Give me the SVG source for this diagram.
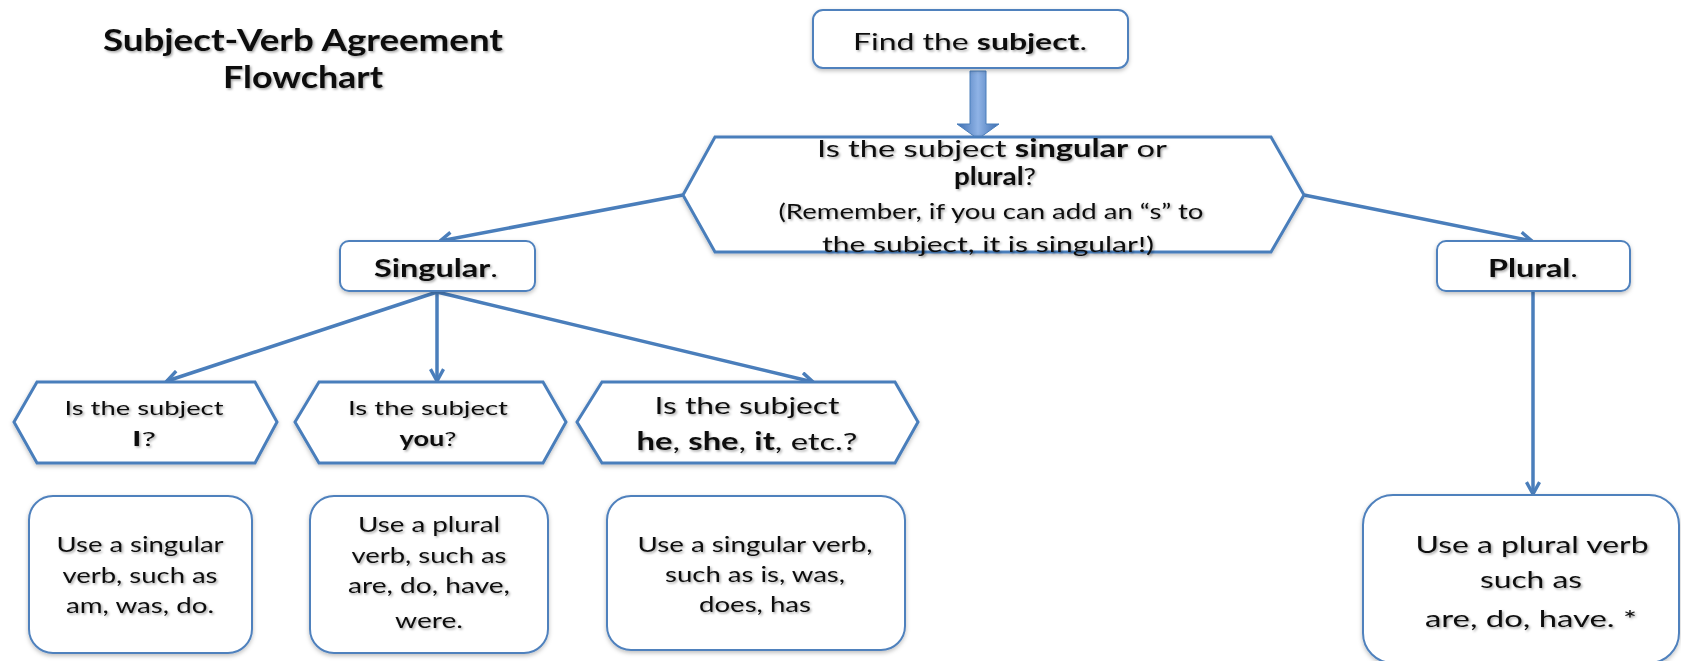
<svg xmlns="http://www.w3.org/2000/svg" width="1681" height="661" viewBox="0 0 1681 661">
<defs>
<style>
.box{fill:#fff;stroke:#4f81bd;stroke-width:2}
.hex{fill:#fff;stroke:#4a7ebb;stroke-width:3;stroke-linejoin:miter}
.conn{stroke:#4a7ebb;stroke-width:3.5;fill:none;marker-end:url(#arr)}
text{font-family:Lato,"Open Sans",sans-serif;fill:#111;text-anchor:middle;filter:url(#ts)}
.b{font-weight:bold}
.f24{font-size:24px}
.f23{font-size:23px}
.f21{font-size:21px}
.f20{font-size:20px}
</style>
<filter id="ts" x="-10%" y="-30%" width="120%" height="160%">
<feDropShadow dx="1.5" dy="1.5" stdDeviation="1.2" flood-color="#000" flood-opacity="0.35"/>
</filter>
<filter id="ss" x="-10%" y="-10%" width="120%" height="130%">
<feDropShadow dx="0" dy="2" stdDeviation="2" flood-color="#000" flood-opacity="0.25"/>
</filter>
<linearGradient id="ga" x1="0" y1="0" x2="1" y2="0">
<stop offset="0" stop-color="#3c6db0"/>
<stop offset="0.5" stop-color="#8fb3e6"/>
<stop offset="1" stop-color="#3c6db0"/>
</linearGradient>
<marker id="arr" viewBox="0 0 12 12" refX="10" refY="6" markerWidth="4.5" markerHeight="4.5" orient="auto" markerUnits="strokeWidth">
<path d="M1,1 L10,6 L1,11" fill="none" stroke="#4a7ebb" stroke-width="2.6"/>
</marker>
</defs>
<rect width="1681" height="661" fill="#fff"/>

<g id="title">
<text class="b" x="303" y="51" font-size="30" textLength="400" lengthAdjust="spacingAndGlyphs">Subject-Verb Agreement</text>
<text class="b" x="303" y="88" font-size="30" textLength="160" lengthAdjust="spacingAndGlyphs">Flowchart</text>
</g>

<g id="connectors">
<path d="M970,71 H986 V124 H999 L978,139 L957,124 H970 Z" fill="url(#ga)" stroke="#4a7ebb" stroke-width="1"/>
<line class="conn" x1="683" y1="195" x2="440" y2="241"/>
<line class="conn" x1="1304" y1="195" x2="1532" y2="241"/>
<line class="conn" x1="437" y1="292" x2="167" y2="381"/>
<line class="conn" x1="437" y1="292" x2="437" y2="381"/>
<line class="conn" x1="437" y1="292" x2="813" y2="382"/>
<line class="conn" x1="1533" y1="292" x2="1533" y2="494"/>
</g>

<g id="find">
<rect class="box" x="813" y="10" width="315" height="58" rx="10" filter="url(#ss)"/>
<text class="f23" x="970" y="50" textLength="234" lengthAdjust="spacingAndGlyphs">Find the <tspan class="b">subject</tspan>.</text>
</g>

<g id="q-main">
<polygon class="hex" points="683,195 715,137 1271,137 1304,195 1271,252 715,252" filter="url(#ss)"/>
<text class="f24" x="992" y="157" textLength="350" lengthAdjust="spacingAndGlyphs">Is  the subject <tspan class="b">singular</tspan> or</text>
<text class="f24" x="995" y="185" textLength="82" lengthAdjust="spacingAndGlyphs"><tspan class="b">plural</tspan>?</text>
<text class="f21" x="991" y="219" textLength="425" lengthAdjust="spacingAndGlyphs">(Remember, if you can add an “s” to</text>
<text class="f21" x="988" y="252" textLength="332" lengthAdjust="spacingAndGlyphs">the subject, it is singular!)</text>
</g>

<g id="singular">
<rect class="box" x="340" y="241" width="195" height="50" rx="9" filter="url(#ss)"/>
<text class="f24 b" x="436" y="277" textLength="124" lengthAdjust="spacingAndGlyphs">Singular<tspan font-weight="normal">.</tspan></text>
</g>

<g id="plural">
<rect class="box" x="1437" y="241" width="193" height="50" rx="9" filter="url(#ss)"/>
<text class="f24 b" x="1533" y="277" textLength="90" lengthAdjust="spacingAndGlyphs">Plural<tspan font-weight="normal">.</tspan></text>
</g>

<g id="q-i">
<polygon class="hex" points="14,422 37,382 255,382 277,422 255,463 37,463" filter="url(#ss)"/>
<text class="f20" x="144" y="415" textLength="159" lengthAdjust="spacingAndGlyphs">Is the subject</text>
<text class="f20" x="144" y="446" textLength="24" lengthAdjust="spacingAndGlyphs"><tspan class="b">I</tspan>?</text>
</g>

<g id="q-you">
<polygon class="hex" points="295,422 319,382 543,382 566,422 543,463 319,463" filter="url(#ss)"/>
<text class="f20" x="428" y="415" textLength="160" lengthAdjust="spacingAndGlyphs">Is the subject</text>
<text class="f20" x="428" y="446" textLength="57" lengthAdjust="spacingAndGlyphs"><tspan class="b">you</tspan>?</text>
</g>

<g id="q-he">
<polygon class="hex" points="577,422 602,382 895,382 918,422 895,463 602,463" filter="url(#ss)"/>
<text class="f24" x="747" y="414" textLength="185" lengthAdjust="spacingAndGlyphs">Is the subject</text>
<text class="f24" x="747" y="450" textLength="221" lengthAdjust="spacingAndGlyphs"><tspan class="b">he</tspan>, <tspan class="b">she</tspan>, <tspan class="b">it</tspan>, etc.?</text>
</g>

<g id="a-i">
<rect class="box" x="29" y="496" width="223" height="157" rx="24" filter="url(#ss)"/>
<text class="f21" x="140" y="552" textLength="167" lengthAdjust="spacingAndGlyphs">Use a singular</text>
<text class="f21" x="140" y="583" textLength="155" lengthAdjust="spacingAndGlyphs">verb, such as</text>
<text class="f21" x="140" y="613" textLength="148" lengthAdjust="spacingAndGlyphs">am, was, do.</text>
</g>

<g id="a-you">
<rect class="box" x="310" y="496" width="238" height="157" rx="24" filter="url(#ss)"/>
<text class="f21" x="429" y="532" textLength="142" lengthAdjust="spacingAndGlyphs">Use a plural</text>
<text class="f21" x="429" y="563" textLength="155" lengthAdjust="spacingAndGlyphs">verb, such as</text>
<text class="f21" x="429" y="593" textLength="162" lengthAdjust="spacingAndGlyphs">are, do, have,</text>
<text class="f21" x="429" y="628" textLength="68" lengthAdjust="spacingAndGlyphs">were.</text>
</g>

<g id="a-he">
<rect class="box" x="607" y="496" width="298" height="154" rx="24" filter="url(#ss)"/>
<text class="f21" x="755" y="552" textLength="235" lengthAdjust="spacingAndGlyphs">Use a singular verb,</text>
<text class="f21" x="755" y="582" textLength="180" lengthAdjust="spacingAndGlyphs">such as is, was,</text>
<text class="f21" x="755" y="612" textLength="112" lengthAdjust="spacingAndGlyphs">does, has</text>
</g>

<g id="a-plural">
<rect class="box" x="1363" y="495" width="316" height="168" rx="30" filter="url(#ss)"/>
<text class="f24" x="1532" y="553" textLength="233" lengthAdjust="spacingAndGlyphs">Use a plural verb</text>
<text class="f24" x="1531" y="588" textLength="102" lengthAdjust="spacingAndGlyphs">such as</text>
<text class="f24" x="1531" y="627" textLength="212" lengthAdjust="spacingAndGlyphs">are, do, have. *</text>
</g>
</svg>
